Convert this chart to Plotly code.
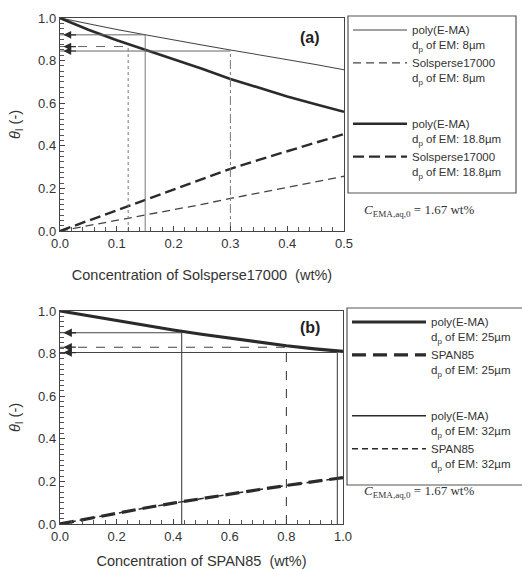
import plotly.graph_objects as go

# ---------------- data ----------------
# Panel (a): concentration of Solsperse17000 (wt%)
xa = [0.0, 0.05, 0.10, 0.15, 0.20, 0.25, 0.30, 0.35, 0.40, 0.45, 0.50]
poly_8 = [1.0, 0.972, 0.946, 0.921, 0.896, 0.873, 0.850, 0.828, 0.806, 0.782, 0.757]
sols_8 = [0.0, 0.025, 0.050, 0.074, 0.099, 0.125, 0.153, 0.179, 0.204, 0.230, 0.257]
poly_188 = [1.0, 0.945, 0.896, 0.852, 0.808, 0.762, 0.714, 0.672, 0.632, 0.595, 0.560]
sols_188 = [0.0, 0.049, 0.097, 0.145, 0.194, 0.243, 0.292, 0.334, 0.375, 0.414, 0.455]
# reference read-offs (a)
ref_a_x = [0.15, 0.12, 0.30]
ref_a_y = [0.921, 0.866, 0.845]

# Panel (b): concentration of SPAN85 (wt%)
xb = [0.0, 0.1, 0.2, 0.3, 0.4, 0.5, 0.6, 0.7, 0.8, 0.9, 1.0]
poly_25 = [1.0, 0.977, 0.954, 0.932, 0.911, 0.891, 0.872, 0.854, 0.837, 0.822, 0.810]
span_25 = [0.0, 0.026, 0.051, 0.075, 0.098, 0.120, 0.141, 0.161, 0.181, 0.200, 0.218]
poly_32 = [1.0, 0.977, 0.954, 0.932, 0.911, 0.891, 0.872, 0.854, 0.837, 0.822, 0.810]
span_32 = [0.0, 0.026, 0.051, 0.075, 0.098, 0.120, 0.141, 0.161, 0.181, 0.200, 0.218]
ref_b_x = [0.43, 0.80, 0.98]
ref_b_y = [0.898, 0.830, 0.805]

C = "#2b2b2b"
FONT = "Liberation Sans, Arial, sans-serif"
W, H = 522, 569

def px_x(p):
    return p / W

def px_y(p):
    return 1 - p / H

fig = go.Figure()

# ---- panel (a) traces ----
fig.add_trace(go.Scatter(x=xa, y=poly_8, mode="lines", line=dict(color="#444", width=1.1),
                         name="poly(E-MA)<br>d<sub>p</sub> of EM: 8µm", legend="legend",
                         legendgroup="a1", xaxis="x", yaxis="y"))
fig.add_trace(go.Scatter(x=xa, y=sols_8, mode="lines", line=dict(color="#444", width=1.3, dash="8px,5px"),
                         name="Solsperse17000<br>d<sub>p</sub> of EM: 8µm", legend="legend",
                         legendgroup="a1", xaxis="x", yaxis="y"))
fig.add_trace(go.Scatter(x=xa, y=poly_188, mode="lines", line=dict(color=C, width=2.6),
                         name="poly(E-MA)<br>d<sub>p</sub> of EM: 18.8µm", legend="legend",
                         legendgroup="a2", xaxis="x", yaxis="y"))
fig.add_trace(go.Scatter(x=xa, y=sols_188, mode="lines", line=dict(color=C, width=2.4, dash="11px,5px"),
                         name="Solsperse17000<br>d<sub>p</sub> of EM: 18.8µm", legend="legend",
                         legendgroup="a2", xaxis="x", yaxis="y"))

styles_a_v = ["solid", "3px,3px", "dashdot"]
styles_a_h = ["solid", "dash", "solid"]
for xr, yr, sv, sh in zip(ref_a_x, ref_a_y, styles_a_v, styles_a_h):
    fig.add_trace(go.Scatter(x=[xr, xr], y=[0, yr], mode="lines", showlegend=False,
                             line=dict(color="#777", width=1.0, dash=sv), xaxis="x", yaxis="y",
                             hoverinfo="skip"))
    fig.add_trace(go.Scatter(x=[0, xr], y=[yr, yr], mode="lines", showlegend=False,
                             line=dict(color="#666", width=1.0, dash=sh), xaxis="x", yaxis="y",
                             hoverinfo="skip"))
    fig.add_annotation(x=0.006, y=yr, xref="x", yref="y", ax=14, ay=0, axref="pixel", ayref="pixel",
                       showarrow=True, arrowhead=2, arrowsize=1.3, arrowwidth=1.2,
                       arrowcolor=C, text="")

# ---- panel (b) traces ----
fig.add_trace(go.Scatter(x=xb, y=poly_25, mode="lines", line=dict(color=C, width=3.2),
                         name="poly(E-MA)<br>d<sub>p</sub> of EM: 25µm", legend="legend2",
                         legendgroup="b1", xaxis="x2", yaxis="y2"))
fig.add_trace(go.Scatter(x=xb, y=span_25, mode="lines", line=dict(color=C, width=3.2, dash="14px,7px"),
                         name="SPAN85<br>d<sub>p</sub> of EM: 25µm", legend="legend2",
                         legendgroup="b1", xaxis="x2", yaxis="y2"))
fig.add_trace(go.Scatter(x=xb, y=poly_32, mode="lines", line=dict(color=C, width=1.5),
                         name="poly(E-MA)<br>d<sub>p</sub> of EM: 32µm", legend="legend2",
                         legendgroup="b2", xaxis="x2", yaxis="y2"))
fig.add_trace(go.Scatter(x=xb, y=span_32, mode="lines", line=dict(color=C, width=1.5, dash="6px,4px"),
                         name="SPAN85<br>d<sub>p</sub> of EM: 32µm", legend="legend2",
                         legendgroup="b2", xaxis="x2", yaxis="y2"))

styles_b = ["solid", "dash", "solid"]
for xr, yr, s in zip(ref_b_x, ref_b_y, styles_b):
    fig.add_trace(go.Scatter(x=[xr, xr], y=[0, yr], mode="lines", showlegend=False,
                             line=dict(color="#444", width=1.1, dash=s), xaxis="x2", yaxis="y2",
                             hoverinfo="skip"))
    fig.add_trace(go.Scatter(x=[0, xr], y=[yr, yr], mode="lines", showlegend=False,
                             line=dict(color="#444", width=1.1, dash=s), xaxis="x2", yaxis="y2",
                             hoverinfo="skip"))
    fig.add_annotation(x=0.012, y=yr, xref="x2", yref="y2", ax=14, ay=0, axref="pixel", ayref="pixel",
                       showarrow=True, arrowhead=2, arrowsize=1.3, arrowwidth=1.3,
                       arrowcolor=C, text="")

# ---- axes ----
tickfont = dict(family=FONT, size=13, color="#333")
titlefont = dict(family=FONT, size=14.5, color="#333")
common = dict(showline=True, linecolor="#444", linewidth=1.4, mirror=True, ticks="inside",
              ticklen=5, tickcolor="#444", showgrid=False, zeroline=False, tickfont=tickfont,
              tickformat=".1f", automargin=False)

fig.update_layout(
    width=W, height=H, margin=dict(l=0, r=0, t=0, b=0, autoexpand=False),
    paper_bgcolor="white", plot_bgcolor="white",
    xaxis=dict(domain=[px_x(60), px_x(344)], range=[0, 0.5], dtick=0.1, anchor="y",
               minor=dict(dtick=0.02, ticks="inside", ticklen=3.5, tickcolor="#555"),
               title=dict(text="Concentration of Solsperse17000  (wt%)", font=titlefont, standoff=20),
               **common),
    yaxis=dict(domain=[px_y(231), px_y(18)], range=[0, 1.0], dtick=0.2, anchor="x",
               minor=dict(dtick=0.025, ticks="inside", ticklen=3.5, tickcolor="#555"),
               title=dict(text="<i>θ</i><sub>I</sub> (-)", font=titlefont, standoff=14),
               **common),
    xaxis2=dict(domain=[px_x(60), px_x(343)], range=[0, 1.0], dtick=0.2, anchor="y2",
                minor=dict(dtick=0.04, ticks="inside", ticklen=3.5, tickcolor="#555"),
                title=dict(text="Concentration of SPAN85  (wt%)", font=titlefont, standoff=16),
                **common),
    yaxis2=dict(domain=[px_y(524), px_y(311)], range=[0, 1.0], dtick=0.2, anchor="x2",
                minor=dict(dtick=0.025, ticks="inside", ticklen=3.5, tickcolor="#555"),
                title=dict(text="<i>θ</i><sub>I</sub> (-)", font=titlefont, standoff=14),
                **common),
    legend=dict(x=px_x(348), y=px_y(16), xanchor="left", yanchor="top",
                bgcolor="rgba(0,0,0,0)", borderwidth=0,
                font=dict(family=FONT, size=11.5, color="#333"),
                traceorder="grouped", tracegroupgap=28, valign="top", itemwidth=54),
    legend2=dict(x=px_x(347), y=px_y(308), xanchor="left", yanchor="top",
                 bgcolor="rgba(0,0,0,0)", borderwidth=0,
                 font=dict(family=FONT, size=11.5, color="#333"),
                 traceorder="grouped", tracegroupgap=28, valign="top", itemwidth=74),
    showlegend=True,
)

# legend frames
fig.add_shape(type="rect", xref="paper", yref="paper", x0=px_x(348), x1=px_x(516),
              y0=px_y(193), y1=px_y(16), line=dict(color="#555", width=1.2), layer="below")
fig.add_shape(type="rect", xref="paper", yref="paper", x0=px_x(347), x1=px_x(540),
              y0=px_y(485), y1=px_y(308), line=dict(color="#555", width=1.2), layer="below")

# panel labels and notes
fig.add_annotation(x=px_x(310), y=px_y(27), xref="paper", yref="paper", text="<b>(a)</b>",
                   showarrow=False, font=dict(family=FONT, size=16, color="#222"))
fig.add_annotation(x=px_x(310), y=px_y(327), xref="paper", yref="paper", text="<b>(b)</b>",
                   showarrow=False, font=dict(family=FONT, size=16, color="#222"))
note = "<i>C</i><sub>EMA,aq,0</sub> = 1.67 wt%"
fig.add_annotation(x=px_x(362), y=px_y(210), xref="paper", yref="paper", text=note, xanchor="left",
                   showarrow=False, font=dict(family="Liberation Serif, Times New Roman, serif", size=13, color="#333"))
fig.add_annotation(x=px_x(362), y=px_y(502), xref="paper", yref="paper", text=note, xanchor="left",
                   showarrow=False, font=dict(family="Liberation Serif, Times New Roman, serif", size=13, color="#333"))

fig.write_html("out.html")
